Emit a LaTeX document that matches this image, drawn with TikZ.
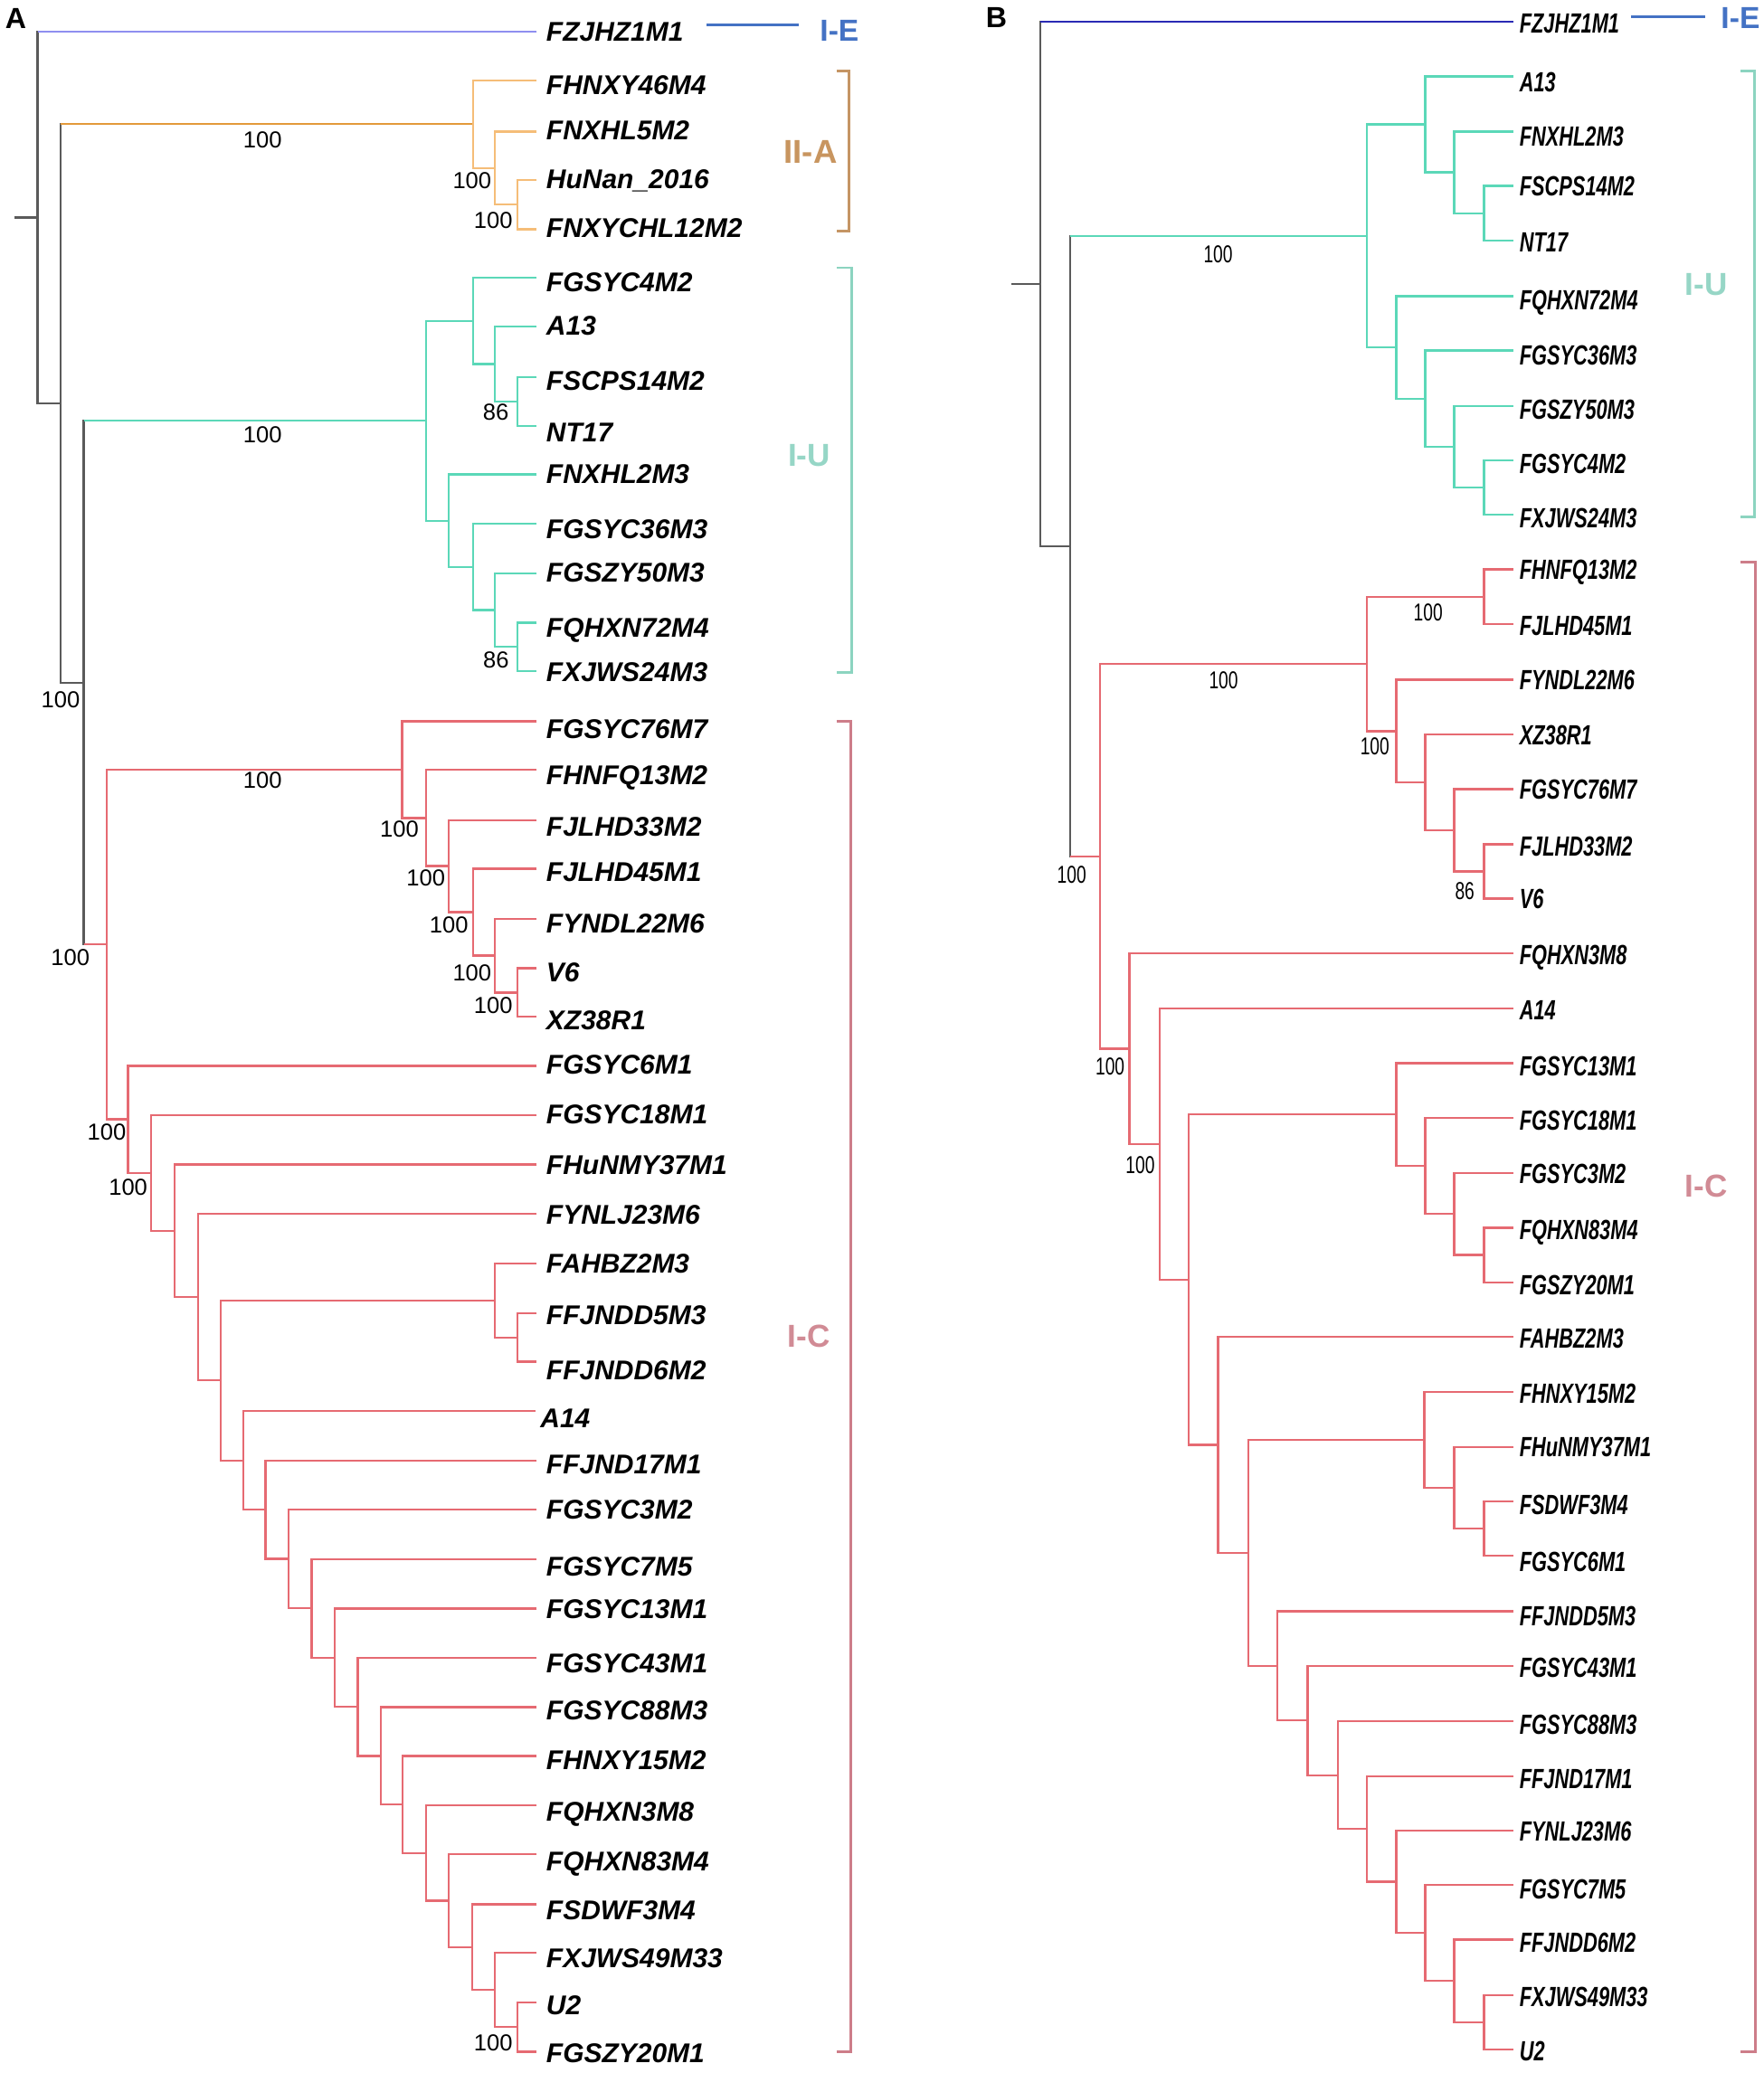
\documentclass[tikz,border=0pt]{standalone}
\usepackage{fontspec}
\setmainfont{Liberation Sans}
\newfontfamily\narrowsans[FakeStretch=0.71]{Liberation Sans}
\usetikzlibrary{calc}
\definecolor{tgray}{HTML}{5A5A5A}
\definecolor{ielav}{HTML}{8F8FF0}
\definecolor{iedark}{HTML}{2A2AB4}
\definecolor{ietext}{HTML}{4472C4}
\definecolor{orstem}{HTML}{E39A3B}
\definecolor{orlight}{HTML}{F5BD78}
\definecolor{iiatext}{HTML}{C8955F}
\definecolor{iiabr}{HTML}{C59564}
\definecolor{tealc}{HTML}{5BD8B8}
\definecolor{iutext}{HTML}{96D6C6}
\definecolor{iubr}{HTML}{8CD4C0}
\definecolor{redc}{HTML}{E66A72}
\definecolor{ictext}{HTML}{D18B95}
\definecolor{icbr}{HTML}{CD7D89}
\tikzset{
  tree/.style={line width=1.6pt},
  labA/.style={anchor=base west, inner sep=0pt, font=\fontsize{20.5}{24}\selectfont\bfseries\itshape},
  labB/.style={anchor=base west, inner sep=0pt, font=\narrowsans\fontsize{21}{24}\selectfont\bfseries\itshape},
  bsA/.style={inner sep=0pt, font=\fontsize{17.5}{20}\selectfont},
  bsB/.style={inner sep=0pt, font=\narrowsans\fontsize{18.5}{20}\selectfont},
  cladeA/.style={inner sep=0pt, font=\fontsize{24}{26}\selectfont\bfseries},
  bracket/.style={line width=2pt},
  panel/.style={inner sep=0pt, font=\fontsize{22}{24}\selectfont\bfseries}
}
\newcommand\LA[4]{\coordinate (#1) at (406,#2); \node[labA] (l#1) at (413,#3+7.4) {#4};}
\newcommand\LB[4]{\coordinate (#1) at (1144.2,#2); \node[labB] (l#1) at (1149,#3+7.5) {#4};}
\newcommand\BR[4]{\draw[tree,#1] (#3) -| (#2 |- #4) -- (#4);}
\newcommand\ST[3]{\draw[tree,#1] (#2 |- #3) -- (#3);}
\begin{document}
\begin{tikzpicture}[x=1pt,y=-1pt]
\fill[white] (0,0) rectangle (1334,1568);
\useasboundingbox (0,0) rectangle (1334,1568);

% ================= PANEL A =================
\node[panel] (panA) at (11.9,13.7) {A};
\LA{pa1}{24.0}{24}{FZJHZ1M1}
\LA{pa2}{60.7}{64}{FHNXY46M4}
\LA{pa3}{99.5}{98}{FNXHL5M2}
\LA{pa4}{136.2}{135}{HuNan\_2016}
\LA{pa5}{173.4}{172.5}{FNXYCHL12M2}
\LA{pa6}{210.1}{213.5}{FGSYC4M2}
\LA{pa7}{246.8}{246}{A13}
\LA{pa8}{285.5}{287.8}{FSCPS14M2}
\LA{pa9}{322}{326.5}{NT17}
\LA{pa10}{358.9}{358.6}{FNXHL2M3}
\LA{pa11}{396.3}{400}{FGSYC36M3}
\LA{pa12}{433.7}{433}{FGSZY50M3}
\LA{pa13}{470.9}{474.7}{FQHXN72M4}
\LA{pa14}{507.6}{508.1}{FXJWS24M3}
\LA{pa15}{545.6}{551}{FGSYC76M7}
\LA{pa16}{582.3}{586}{FHNFQ13M2}
\LA{pa17}{620.3}{625.3}{FJLHD33M2}
\LA{pa18}{657}{659.5}{FJLHD45M1}
\LA{pa19}{694.9}{698}{FYNDL22M6}
\LA{pa20}{732.4}{734.9}{V6}
\LA{pa21}{769.1}{771.6}{XZ38R1}
\LA{pa22}{806.2}{804.7}{FGSYC6M1}
\LA{pa23}{843.4}{842.6}{FGSYC18M1}
\LA{pa24}{880.9}{880.6}{FHuNMY37M1}
\LA{pa25}{918.1}{918.6}{FYNLJ23M6}
\LA{pa26}{955.5}{955.3}{FAHBZ2M3}
\LA{pa27}{993.5}{994.5}{FFJNDD5M3}
\LA{pa28}{1029.9}{1036.3}{FFJNDD6M2}
\coordinate (pa29) at (405,1067.4); \node[labA] (lpa29) at (408.5,1072.5+7.4) {A14};
\LA{pa30}{1104.9}{1107.1}{FFJND17M1}
\LA{pa31}{1141.6}{1141.3}{FGSYC3M2}
\LA{pa32}{1179.2}{1184.5}{FGSYC7M5}
\LA{pa33}{1216.6}{1217.1}{FGSYC13M1}
\LA{pa34}{1254}{1258}{FGSYC43M1}
\LA{pa35}{1291.3}{1293.5}{FGSYC88M3}
\LA{pa36}{1328.2}{1331.4}{FHNXY15M2}
\LA{pa37}{1365.6}{1370.1}{FQHXN3M8}
\LA{pa38}{1402.4}{1407.5}{FQHXN83M4}
\LA{pa39}{1440.3}{1444.9}{FSDWF3M4}
\LA{pa40}{1477.2}{1480.9}{FXJWS49M33}
\LA{pa41}{1514.5}{1516.4}{U2}
\LA{pa42}{1551.9}{1552.5}{FGSZY20M1}

% internal nodes A
\coordinate (aStub) at (10.9,164.55);
\coordinate (aRoot) at (28.4,164.55);
\coordinate (a2) at (45.8,305.1);
\coordinate (aIIA) at (357.8,93.9);
\coordinate (aIIA2) at (374.3,127.15);
\coordinate (aIIA3) at (391.4,154.8);
\coordinate (a3) at (63.3,516.35);
\coordinate (aIU) at (322,318.3);
\coordinate (aIU1) at (357.8,242.7);
\coordinate (aIU1b) at (374.3,275.3);
\coordinate (aIU1c) at (391.4,303.75);
\coordinate (aIU2) at (339.5,393.9);
\coordinate (aIU2b) at (357.8,428.9);
\coordinate (aIU2c) at (374.3,461.5);
\coordinate (aIU2d) at (391.4,489.25);
\coordinate (aIC) at (80.7,714.4);
\coordinate (aC1) at (304.1,582.15);
\coordinate (aC1b) at (322,618.7);
\coordinate (aC1c) at (339.5,655.1);
\coordinate (aC1d) at (357.8,689.9);
\coordinate (aC1e) at (374.3,722.8);
\coordinate (aC1f) at (391.4,750.75);
\coordinate (aC2) at (96.9,846.7);
\coordinate (aC3) at (114.3,887.2);
\coordinate (aC4) at (132.2,931);
\coordinate (aC5) at (149.7,981.1);
\coordinate (aC6) at (167.1,1044.15);
\coordinate (aF) at (374.3,983.6);
\coordinate (aF2) at (391.4,1011.7);
\coordinate (aC7) at (184.1,1104.7);
\coordinate (aC8) at (200.7,1142);
\coordinate (aC9) at (218.2,1179.05);
\coordinate (aC10) at (235.6,1216.5);
\coordinate (aC11) at (253.1,1253.8);
\coordinate (aC12) at (270.5,1291.05);
\coordinate (aC13) at (288,1328.1);
\coordinate (aC14) at (304.5,1364.9);
\coordinate (aC15) at (322,1401.6);
\coordinate (aC16) at (339.5,1437.6);
\coordinate (aC17) at (356.9,1472.75);
\coordinate (aC18) at (374.3,1505.2);
\coordinate (aC19) at (391.4,1533.2);

\draw[tree,tgray] (aStub) -- (aRoot);
\BR{tgray}{aRoot}{pa1}{a2} \ST{ielav}{aRoot}{pa1}
\BR{tgray}{a2}{aIIA}{a3} \ST{orstem}{a2}{aIIA}
\BR{orlight}{aIIA}{pa2}{aIIA2}
\BR{orlight}{aIIA2}{pa3}{aIIA3}
\BR{orlight}{aIIA3}{pa4}{pa5}
\BR{tgray}{a3}{aIU}{aIC} \ST{tealc}{a3}{aIU} \ST{redc}{a3}{aIC}
\BR{tealc}{aIU}{aIU1}{aIU2}
\BR{tealc}{aIU1}{pa6}{aIU1b}
\BR{tealc}{aIU1b}{pa7}{aIU1c}
\BR{tealc}{aIU1c}{pa8}{pa9}
\BR{tealc}{aIU2}{pa10}{aIU2b}
\BR{tealc}{aIU2b}{pa11}{aIU2c}
\BR{tealc}{aIU2c}{pa12}{aIU2d}
\BR{tealc}{aIU2d}{pa13}{pa14}
\BR{redc}{aIC}{aC1}{aC2}
\BR{redc}{aC1}{pa15}{aC1b}
\BR{redc}{aC1b}{pa16}{aC1c}
\BR{redc}{aC1c}{pa17}{aC1d}
\BR{redc}{aC1d}{pa18}{aC1e}
\BR{redc}{aC1e}{pa19}{aC1f}
\BR{redc}{aC1f}{pa20}{pa21}
\BR{redc}{aC2}{pa22}{aC3}
\BR{redc}{aC3}{pa23}{aC4}
\BR{redc}{aC4}{pa24}{aC5}
\BR{redc}{aC5}{pa25}{aC6}
\BR{redc}{aC6}{aF}{aC7}
\BR{redc}{aF}{pa26}{aF2}
\BR{redc}{aF2}{pa27}{pa28}
\BR{redc}{aC7}{pa29}{aC8}
\BR{redc}{aC8}{pa30}{aC9}
\BR{redc}{aC9}{pa31}{aC10}
\BR{redc}{aC10}{pa32}{aC11}
\BR{redc}{aC11}{pa33}{aC12}
\BR{redc}{aC12}{pa34}{aC13}
\BR{redc}{aC13}{pa35}{aC14}
\BR{redc}{aC14}{pa36}{aC15}
\BR{redc}{aC15}{pa37}{aC16}
\BR{redc}{aC16}{pa38}{aC17}
\BR{redc}{aC17}{pa39}{aC18}
\BR{redc}{aC18}{pa40}{aC19}
\BR{redc}{aC19}{pa41}{pa42}

% bootstraps A
\node[bsA] (bsa1) at (198.5,105.8) {100};
\node[bsA] (bsa2) at (357,136.7) {100};
\node[bsA] (bsa3) at (373,166.5) {100};
\node[bsA] (bsa4) at (198.5,329) {100};
\node[bsA] (bsa5) at (375,311.8) {86};
\node[bsA] (bsa6) at (375.2,499.5) {86};
\node[bsA] (bsa7) at (45.8,529.4) {100};
\node[bsA] (bsa8) at (198.5,590.1) {100};
\node[bsA] (bsa9) at (53.2,724.3) {100};
\node[bsA] (bsa10) at (302,627.4) {100};
\node[bsA] (bsa11) at (322,664) {100};
\node[bsA] (bsa12) at (339.5,699.5) {100};
\node[bsA] (bsa13) at (357,736.2) {100};
\node[bsA] (bsa14) at (373,760.7) {100};
\node[bsA] (bsa15) at (80.7,856.1) {100};
\node[bsA] (bsa16) at (96.9,897.8) {100};
\node[bsA] (bsa17) at (373,1545) {100};

% clade marks A
\coordinate (ieA1) at (534.5,19); \coordinate (ieA2) at (604.3,19);
\draw[bracket,ietext] (ieA1) -- (ieA2);
\node[cladeA,text=ietext,font=\fontsize{23}{26}\selectfont\bfseries] (tieA) at (634.8,23) {I-E};
\draw[bracket,iiabr] (632.7,53.9) -- (642.3,53.9) -- (642.3,174.6) -- (632.7,174.6);
\node[cladeA,text=iiatext,font=\fontsize{25}{27}\selectfont\bfseries] (tiiaA) at (613,115.1) {II-A};
\draw[bracket,iubr] (632.7,202.5) -- (644.3,202.5) -- (644.3,508.9) -- (632.7,508.9);
\node[cladeA,text=iutext] (tiuA) at (612,344.2) {I-U};
\draw[bracket,icbr] (632.7,545.6) -- (643.6,545.6) -- (643.6,1551.9) -- (632.7,1551.9);
\node[cladeA,text=ictext] (ticA) at (611.8,1010.4) {I-C};

% ================= PANEL B =================
\node[panel] (panB) at (753.5,13.2) {B};
\LB{pb1}{16.5}{17.7}{FZJHZ1M1}
\LB{pb2}{57.7}{62}{A13}
\LB{pb3}{99.5}{103}{FNXHL2M3}
\LB{pb4}{140.5}{140.5}{FSCPS14M2}
\LB{pb5}{182.2}{183}{NT17}
\LB{pb6}{224}{226.5}{FQHXN72M4}
\LB{pb7}{265.2}{268.5}{FGSYC36M3}
\LB{pb8}{307}{309.5}{FGSZY50M3}
\LB{pb9}{348}{350.3}{FGSYC4M2}
\LB{pb10}{389.4}{392}{FXJWS24M3}
\LB{pb11}{430.7}{431}{FHNFQ13M2}
\LB{pb12}{472.2}{473}{FJLHD45M1}
\LB{pb13}{514.2}{514}{FYNDL22M6}
\LB{pb14}{555.7}{556}{XZ38R1}
\LB{pb15}{597}{597}{FGSYC76M7}
\LB{pb16}{638.7}{640}{FJLHD33M2}
\LB{pb17}{679.7}{680}{V6}
\LB{pb18}{721}{722}{FQHXN3M8}
\LB{pb19}{762.8}{764}{A14}
\LB{pb20}{804.2}{806}{FGSYC13M1}
\LB{pb21}{845.4}{847}{FGSYC18M1}
\LB{pb22}{887.2}{888}{FGSYC3M2}
\LB{pb23}{928.7}{930}{FQHXN83M4}
\LB{pb24}{969.9}{972}{FGSZY20M1}
\LB{pb25}{1011.2}{1012}{FAHBZ2M3}
\LB{pb26}{1053}{1054}{FHNXY15M2}
\LB{pb27}{1094.5}{1094}{FHuNMY37M1}
\LB{pb28}{1135.7}{1138}{FSDWF3M4}
\LB{pb29}{1176.8}{1181}{FGSYC6M1}
\LB{pb30}{1218.7}{1222}{FFJNDD5M3}
\LB{pb31}{1260.1}{1261}{FGSYC43M1}
\LB{pb32}{1302}{1304}{FGSYC88M3}
\LB{pb33}{1343.4}{1345}{FFJND17M1}
\LB{pb34}{1384.8}{1385}{FYNLJ23M6}
\LB{pb35}{1425.6}{1429}{FGSYC7M5}
\LB{pb36}{1467}{1469}{FFJNDD6M2}
\LB{pb37}{1509}{1510}{FXJWS49M33}
\LB{pb38}{1550.3}{1551}{U2}

\coordinate (bStub) at (764.9,214.8);
\coordinate (bRoot) at (786.9,214.8);
\coordinate (b2) at (809.3,413.05);
\coordinate (bU) at (1033.5,178.4);
\coordinate (bU1) at (1077.9,94.05);
\coordinate (bU1b) at (1099.8,130.4);
\coordinate (bU1c) at (1122.2,161.35);
\coordinate (bU2) at (1055.9,262.75);
\coordinate (bU2b) at (1077.9,301.5);
\coordinate (bU2c) at (1099.8,337.85);
\coordinate (bU2d) at (1122.2,368.7);
\coordinate (bIC) at (832.1,647.7);
\coordinate (bC1) at (1033.5,502.25);
\coordinate (bC1a) at (1122.2,451.45);
\coordinate (bC1b) at (1055.9,553.05);
\coordinate (bC1c) at (1077.9,591.9);
\coordinate (bC1d) at (1099.8,628.1);
\coordinate (bC1e) at (1122.2,659.2);
\coordinate (bC2) at (854.1,793.2);
\coordinate (bC3) at (876.9,865.4);
\coordinate (bC4) at (898.8,967.95);
\coordinate (bG) at (1055.9,843);
\coordinate (bG2) at (1077.9,881.8);
\coordinate (bG3) at (1099.8,918.25);
\coordinate (bG4) at (1122.2,949.3);
\coordinate (bH) at (921.2,1092.9);
\coordinate (bI) at (944,1174.6);
\coordinate (bJ) at (1077.1,1089.2);
\coordinate (bJ2) at (1099.8,1125.4);
\coordinate (bJ3) at (1122.2,1156.25);
\coordinate (bK) at (966,1260.05);
\coordinate (bK2) at (988.8,1301.4);
\coordinate (bK3) at (1011.6,1342.7);
\coordinate (bK4) at (1033.5,1383.4);
\coordinate (bK5) at (1055.9,1423.4);
\coordinate (bK6) at (1077.9,1461.95);
\coordinate (bK7) at (1099.8,1498.3);
\coordinate (bK8) at (1122.2,1529.65);

\draw[tree,tgray] (bStub) -- (bRoot);
\BR{tgray}{bRoot}{pb1}{b2} \ST{iedark}{bRoot}{pb1}
\BR{tgray}{b2}{bU}{bIC} \ST{tealc}{b2}{bU} \ST{redc}{b2}{bIC}
\BR{tealc}{bU}{bU1}{bU2}
\BR{tealc}{bU1}{pb2}{bU1b}
\BR{tealc}{bU1b}{pb3}{bU1c}
\BR{tealc}{bU1c}{pb4}{pb5}
\BR{tealc}{bU2}{pb6}{bU2b}
\BR{tealc}{bU2b}{pb7}{bU2c}
\BR{tealc}{bU2c}{pb8}{bU2d}
\BR{tealc}{bU2d}{pb9}{pb10}
\BR{redc}{bIC}{bC1}{bC2}
\BR{redc}{bC1}{bC1a}{bC1b}
\BR{redc}{bC1a}{pb11}{pb12}
\BR{redc}{bC1b}{pb13}{bC1c}
\BR{redc}{bC1c}{pb14}{bC1d}
\BR{redc}{bC1d}{pb15}{bC1e}
\BR{redc}{bC1e}{pb16}{pb17}
\BR{redc}{bC2}{pb18}{bC3}
\BR{redc}{bC3}{pb19}{bC4}
\BR{redc}{bC4}{bG}{bH}
\BR{redc}{bG}{pb20}{bG2}
\BR{redc}{bG2}{pb21}{bG3}
\BR{redc}{bG3}{pb22}{bG4}
\BR{redc}{bG4}{pb23}{pb24}
\BR{redc}{bH}{pb25}{bI}
\BR{redc}{bI}{bJ}{bK}
\BR{redc}{bJ}{pb26}{bJ2}
\BR{redc}{bJ2}{pb27}{bJ3}
\BR{redc}{bJ3}{pb28}{pb29}
\BR{redc}{bK}{pb30}{bK2}
\BR{redc}{bK2}{pb31}{bK3}
\BR{redc}{bK3}{pb32}{bK4}
\BR{redc}{bK4}{pb33}{bK5}
\BR{redc}{bK5}{pb34}{bK6}
\BR{redc}{bK6}{pb35}{bK7}
\BR{redc}{bK7}{pb36}{bK8}
\BR{redc}{bK8}{pb37}{pb38}

% bootstraps B
\node[bsB] (bsb1) at (921.2,192.4) {100};
\node[bsB] (bsb2) at (925.3,514.7) {100};
\node[bsB] (bsb3) at (1039.7,564.8) {100};
\node[bsB] (bsb4) at (1080,463.6) {100};
\node[bsB] (bsb5) at (1107.7,674.2) {86};
\node[bsB] (bsb6) at (810.5,661.5) {100};
\node[bsB] (bsb7) at (839.5,806.7) {100};
\node[bsB] (bsb8) at (862.3,881.4) {100};

% clade marks B
\coordinate (ieB1) at (1233.3,12.7); \coordinate (ieB2) at (1289.3,12.7);
\draw[bracket,ietext] (ieB1) -- (ieB2);
\node[cladeA,text=ietext,font=\fontsize{23}{26}\selectfont\bfseries] (tieB) at (1316.2,13.4) {I-E};
\draw[bracket,iubr] (1316.2,53.9) -- (1326.6,53.9) -- (1326.6,390.7) -- (1316.2,390.7);
\node[cladeA,text=iutext] (tiuB) at (1290.3,215.1) {I-U};
\draw[bracket,icbr] (1316.2,424.9) -- (1327.2,424.9) -- (1327.2,1551.9) -- (1316.2,1551.9);
\node[cladeA,text=ictext] (ticB) at (1290.3,897) {I-C};
\end{tikzpicture}
\end{document}
